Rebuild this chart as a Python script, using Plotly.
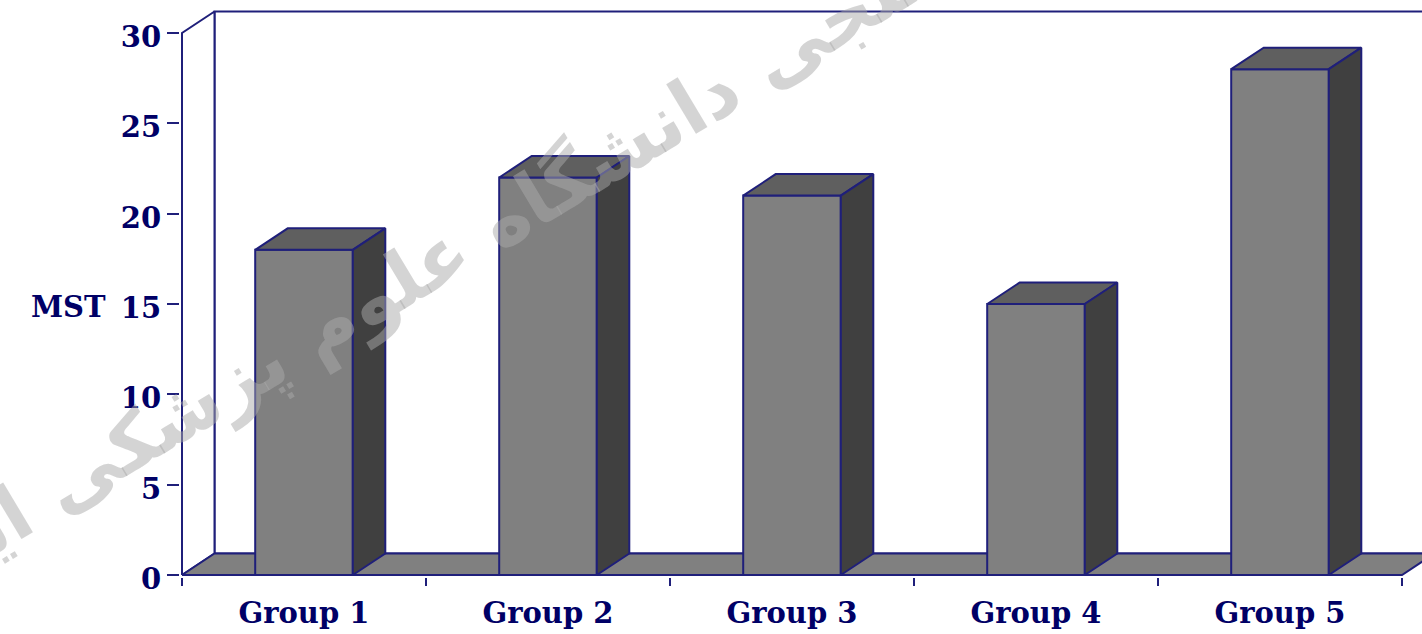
import plotly.graph_objects as go

# ---- data ----
categories = ["Group 1", "Group 2", "Group 3", "Group 4", "Group 5"]
mst_values = [18, 22, 21, 15, 28]
y_ticks = [0, 5, 10, 15, 20, 25, 30]
y_title = "MST"
watermark = "علم سنجی دانشگاه علوم پزشکی ایران"

# ---- style / geometry ----
W, H = 1422, 634
LINE = "#1f1f7a"
TEXT = "#000066"
FRONT, TOP, SIDE, FLOOR = "#808080", "#5f5f5f", "#404040", "#808080"
px_per_cat = 244.0
px_per_unit = (575 - 33) / 30.0
DX = 32.5 / px_per_cat        # depth offset in category units
DY = 21.5 / px_per_unit       # depth offset in value units
BAR_W = 0.4
YMAX = max(y_ticks)
n = len(categories)

ml, mb = 180, 57
x0 = -0.5 - (182 - ml) / px_per_cat
x1 = -0.5 + (W - 182) / px_per_cat
y0 = -(H - mb - 575) / px_per_unit
y1 = 575 / px_per_unit

fig = go.Figure()

def poly(xs, ys, fill):
    fig.add_trace(go.Scatter(
        x=xs + [xs[0]], y=ys + [ys[0]], mode="lines", fill="toself",
        fillcolor=fill, line=dict(color=LINE, width=2),
        hoverinfo="skip", showlegend=False))

L, R = -0.5, n - 0.5
# back wall
poly([L + DX, R + DX, R + DX, L + DX], [DY, DY, YMAX + DY, YMAX + DY], "white")
# left wall
poly([L, L, L + DX, L + DX], [0, YMAX, YMAX + DY, DY], "white")
# floor
poly([L, R, R + DX, L + DX], [0, 0, DY, DY], FLOOR)

# bars
for i, v in enumerate(mst_values):
    a, b = i - BAR_W / 2, i + BAR_W / 2
    poly([a, b, b, a], [0, 0, v, v], FRONT)
    poly([a, b, b + DX, a + DX], [v, v, v + DY, v + DY], TOP)
    poly([b, b + DX, b + DX, b], [0, DY, v + DY, v], SIDE)

font = dict(family="DejaVu Serif", size=29, color=TEXT, weight="bold")

fig.update_layout(
    width=W, height=H,
    margin=dict(l=ml, r=0, t=0, b=mb),
    paper_bgcolor="white", plot_bgcolor="white",
    showlegend=False,
    xaxis=dict(
        range=[x0, x1], showgrid=False, zeroline=False, showline=False,
        tickmode="array", tickvals=list(range(n)), ticktext=categories,
        ticks="", tickfont=font, ticklabelstandoff=16,
        minor=dict(tickmode="array", tickvals=[k - 0.5 for k in range(n + 1)],
                   ticks="outside", ticklen=8, tickwidth=2, tickcolor=LINE,
                   showgrid=False),
    ),
    yaxis=dict(
        range=[y0, y1], showgrid=False, zeroline=False, showline=False,
        tickmode="array", tickvals=y_ticks,
        ticks="outside", ticklen=12, tickwidth=2, tickcolor=LINE,
        tickfont=font, ticklabelstandoff=0, ticklabelshift=4,
    ),
    annotations=[
        dict(text=y_title, xref="paper", yref="y", x=0, y=15,
             xanchor="right", yanchor="middle", xshift=-(ml - 108), yshift=-3,
             showarrow=False, font=font),
        dict(text=watermark, xref="paper", yref="paper",
             x=(482 - ml) / (W - ml), y=1 - 232 / (H - mb),
             xanchor="center", yanchor="middle", textangle=-31,
             showarrow=False,
             font=dict(family="DejaVu Sans", size=76, weight="bold",
                       color="rgba(170,170,170,0.5)")),
    ],
)

fig.write_html("out.html")
